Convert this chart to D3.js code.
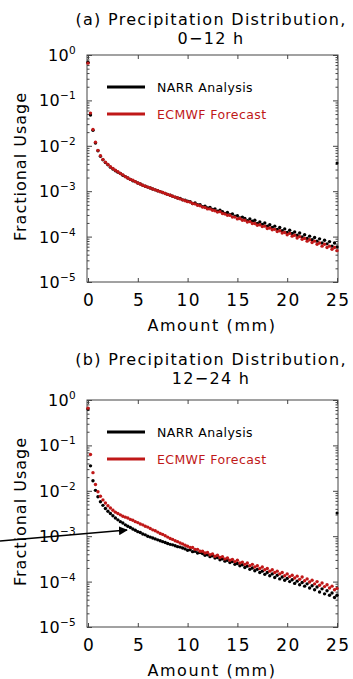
<!DOCTYPE html>
<html lang="en">
<head>
<meta charset="UTF-8">
<title>Precipitation Distribution</title>
<script src="https://d3js.org/d3.v7.min.js"></script>
<style>
  body { margin: 0; background: #fff; font-family: 'DejaVu Sans', sans-serif; }
  svg { display: block; }
  .axis path, .axis line { stroke: #444; }
</style>
</head>
<body>
<svg id="chart" width="353" height="679"></svg>
<script>
// precipitation amount bins (mm)
const amounts = [0, 0.25, 0.5, 0.75, 1, 1.25, 1.5, 1.75, 2, 2.25, 2.5, 2.75, 3, 3.25, 3.5, 3.75,
  4, 4.25, 4.5, 4.75, 5, 5.25, 5.5, 5.75, 6, 6.25, 6.5, 6.75, 7, 7.25, 7.5, 7.75,
  8, 8.25, 8.5, 8.75, 9, 9.25, 9.5, 9.75, 10, 10.25, 10.5, 10.75, 11, 11.25, 11.5, 11.75,
  12, 12.25, 12.5, 12.75, 13, 13.25, 13.5, 13.75, 14, 14.25, 14.5, 14.75, 15, 15.25, 15.5, 15.75,
  16, 16.25, 16.5, 16.75, 17, 17.25, 17.5, 17.75, 18, 18.25, 18.5, 18.75, 19, 19.25, 19.5, 19.75,
  20, 20.25, 20.5, 20.75, 21, 21.25, 21.5, 21.75, 22, 22.25, 22.5, 22.75, 23, 23.25, 23.5, 23.75,
  24, 24.25, 24.5, 24.75, 25];

// log10 of fractional usage
const narrA = [-0.16, -1.32, -1.66, -1.94, -2.11, -2.23, -2.31, -2.37, -2.42, -2.47,
  -2.51, -2.55, -2.58, -2.61, -2.65, -2.68, -2.71, -2.74, -2.77, -2.79,
  -2.82, -2.84, -2.87, -2.89, -2.91, -2.93, -2.95, -2.97, -2.99, -3.01,
  -3.03, -3.05, -3.07, -3.09, -3.11, -3.13, -3.15, -3.16, -3.19, -3.20,
  -3.22, -3.23, -3.27, -3.26, -3.30, -3.30, -3.34, -3.33, -3.37, -3.36,
  -3.40, -3.39, -3.44, -3.42, -3.45, -3.49, -3.47, -3.52, -3.50, -3.55,
  -3.54, -3.59, -3.57, -3.60, -3.65, -3.61, -3.66, -3.64, -3.71, -3.68,
  -3.73, -3.70, -3.77, -3.74, -3.80, -3.77, -3.84, -3.80, -3.87, -3.83,
  -3.91, -3.86, -3.93, -3.90, -3.97, -3.92, -4.01, -3.96, -4.04, -3.99,
  -4.07, -4.02, -4.10, -4.05, -4.14, -4.08, -4.16, -4.11, -4.21, -4.14,
  -4.23];
const ecmwfA = [-0.18, -1.28, -1.64, -1.92, -2.10, -2.22, -2.30, -2.36, -2.41, -2.46,
  -2.50, -2.54, -2.57, -2.61, -2.64, -2.68, -2.71, -2.74, -2.76, -2.79,
  -2.82, -2.84, -2.87, -2.89, -2.91, -2.93, -2.95, -2.97, -2.99, -3.01,
  -3.03, -3.05, -3.07, -3.09, -3.11, -3.13, -3.15, -3.17, -3.19, -3.21,
  -3.23, -3.24, -3.27, -3.28, -3.31, -3.32, -3.35, -3.36, -3.39, -3.39,
  -3.42, -3.43, -3.46, -3.45, -3.49, -3.50, -3.53, -3.53, -3.57, -3.57,
  -3.61, -3.60, -3.64, -3.64, -3.68, -3.67, -3.71, -3.71, -3.75, -3.74,
  -3.78, -3.77, -3.82, -3.81, -3.85, -3.84, -3.89, -3.87, -3.92, -3.91,
  -3.96, -3.93, -3.99, -3.97, -4.03, -4.00, -4.06, -4.04, -4.10, -4.07,
  -4.13, -4.10, -4.17, -4.14, -4.21, -4.17, -4.24, -4.21, -4.28, -4.24,
  -4.31];
const narrB = [-0.20, -1.45, -1.78, -1.99, -2.13, -2.24, -2.32, -2.39, -2.45, -2.50,
  -2.55, -2.60, -2.64, -2.68, -2.71, -2.75, -2.78, -2.81, -2.84, -2.87,
  -2.90, -2.92, -2.95, -2.97, -3.00, -3.02, -3.04, -3.06, -3.08, -3.10,
  -3.12, -3.14, -3.16, -3.18, -3.19, -3.21, -3.23, -3.24, -3.26, -3.28,
  -3.31, -3.30, -3.34, -3.33, -3.37, -3.36, -3.38, -3.42, -3.41, -3.45,
  -3.43, -3.48, -3.47, -3.52, -3.50, -3.55, -3.53, -3.58, -3.56, -3.62,
  -3.60, -3.65, -3.63, -3.69, -3.66, -3.73, -3.70, -3.76, -3.73, -3.80,
  -3.77, -3.84, -3.80, -3.87, -3.83, -3.91, -3.86, -3.94, -3.90, -3.97,
  -3.93, -4.00, -3.96, -4.04, -3.99, -4.07, -4.02, -4.10, -4.05, -4.14,
  -4.09, -4.18, -4.12, -4.23, -4.16, -4.27, -4.20, -4.30, -4.25, -4.35,
  -4.30];
const ecmwfB = [-0.18, -1.20, -1.60, -1.86, -2.02, -2.12, -2.20, -2.27, -2.33, -2.38,
  -2.43, -2.47, -2.50, -2.53, -2.56, -2.58, -2.60, -2.63, -2.65, -2.68,
  -2.70, -2.73, -2.75, -2.78, -2.80, -2.83, -2.86, -2.88, -2.91, -2.94,
  -2.96, -2.99, -3.02, -3.05, -3.07, -3.10, -3.12, -3.15, -3.17, -3.20,
  -3.22, -3.25, -3.25, -3.29, -3.29, -3.33, -3.33, -3.37, -3.36, -3.41,
  -3.39, -3.44, -3.42, -3.47, -3.45, -3.50, -3.48, -3.53, -3.51, -3.56,
  -3.53, -3.59, -3.57, -3.62, -3.59, -3.65, -3.62, -3.68, -3.65, -3.71,
  -3.68, -3.74, -3.71, -3.77, -3.74, -3.80, -3.77, -3.83, -3.80, -3.87,
  -3.83, -3.89, -3.86, -3.92, -3.88, -3.95, -3.90, -3.98, -3.94, -4.01,
  -3.97, -4.05, -4.00, -4.08, -4.03, -4.11, -4.07, -4.14, -4.10, -4.18,
  -4.15];
// lone analysis points on the right edge (>= 25 mm bin)
const overflowAmount = [25];
const overflowNarrA = [-2.38];
const overflowNarrB = [-2.49];

const xTicks = [0, 5, 10, 15, 20, 25];
const yExponents = [0, -1, -2, -3, -4, -5];
const seriesNames = ['NARR Analysis', 'ECMWF Forecast'];
const seriesColors = ['#000000', '#c01818'];
const panelTitles = [
  ['(a) Precipitation Distribution,', '0\u221212 h'],
  ['(b) Precipitation Distribution,', '12\u221224 h']
];

const svg = d3.select('#chart');
const left = 88, right = 337, plotH = 227;
const panelTops = [55, 400];
const titleBase = [25, 365];

const x = d3.scaleLinear().domain([0, 25]).range([left, right]);

function drawPanel(idx, narr, ecmwf, overflow) {
  const top = panelTops[idx];
  const y = d3.scaleLog().domain([1e-5, 1]).range([top + plotH, top]);
  const g = svg.append('g');

  // title
  panelTitles[idx].forEach((line, k) => {
    g.append('text').attr('x', 211).attr('y', titleBase[idx] + k * 19)
      .attr('text-anchor', 'middle').attr('font-size', 16).attr('letter-spacing', 1.3)
      .text(line);
  });

  // frame
  g.append('rect').attr('x', left - 1).attr('y', top)
    .attr('width', right - left + 2).attr('height', plotH)
    .attr('fill', 'none').attr('stroke', '#444').attr('stroke-width', 1);

  const majors = yExponents.map(e => Math.pow(10, e));
  const minors = y.ticks().filter(v => !majors.some(m => Math.abs(v / m - 1) < 1e-6));

  // inward ticks on all four sides
  g.append('g').attr('class', 'axis').attr('transform', `translate(${left - 1},0)`)
    .call(d3.axisLeft(y).tickValues(majors).tickSize(-5).tickFormat(''))
    .call(a => a.select('.domain').remove());
  g.append('g').attr('class', 'axis').attr('transform', `translate(${left - 1},0)`)
    .call(d3.axisLeft(y).tickValues(minors).tickSize(-2.5).tickFormat(''))
    .call(a => a.select('.domain').remove());
  g.append('g').attr('class', 'axis').attr('transform', `translate(${right + 1},0)`)
    .call(d3.axisRight(y).tickValues(majors).tickSize(-5).tickFormat(''))
    .call(a => a.select('.domain').remove());
  g.append('g').attr('class', 'axis').attr('transform', `translate(${right + 1},0)`)
    .call(d3.axisRight(y).tickValues(minors).tickSize(-2.5).tickFormat(''))
    .call(a => a.select('.domain').remove());
  g.append('g').attr('class', 'axis').attr('transform', `translate(0,${top + plotH})`)
    .call(d3.axisBottom(x).tickValues(xTicks).tickSize(-4).tickPadding(12))
    .call(a => a.select('.domain').remove())
    .call(a => a.selectAll('text').attr('font-size', 17).attr('letter-spacing', 1.5)
      .attr('dx', 0.75).attr('fill', '#000').attr('font-family', 'DejaVu Sans'));
  g.append('g').attr('class', 'axis').attr('transform', `translate(0,${top})`)
    .call(d3.axisTop(x).tickValues(xTicks).tickSize(-4).tickFormat(''))
    .call(a => a.select('.domain').remove());

  // y tick labels 10^n
  yExponents.forEach(e => {
    const t = g.append('text').attr('x', 76).attr('y', y(Math.pow(10, e)) + 6)
      .attr('text-anchor', 'end').attr('font-size', 16).attr('letter-spacing', 0.3);
    t.append('tspan').text('10');
    t.append('tspan').attr('dy', -7).attr('font-size', 10.5)
      .text(e === 0 ? '0' : '\u2212' + Math.abs(e));
  });

  // axis titles
  g.append('text').attr('transform', `translate(26,${top + plotH / 2 - 2}) rotate(-90)`)
    .attr('text-anchor', 'middle').attr('font-size', 16).attr('letter-spacing', 1)
    .text('Fractional Usage');
  g.append('text').attr('x', 212).attr('y', top + plotH + 49)
    .attr('text-anchor', 'middle').attr('font-size', 16).attr('letter-spacing', 1.6)
    .text('Amount (mm)');

  // data points: analysis first, forecast on top
  [narr, ecmwf].forEach((vals, s) => {
    g.append('g').selectAll('circle')
      .data(amounts.map((a, i) => [a, vals[i]]))
      .join('circle')
      .attr('cx', d => x(d[0]))
      .attr('cy', d => y(Math.pow(10, d[1])))
      .attr('r', 1.7)
      .attr('fill', seriesColors[s]);
  });
  g.append('g').selectAll('circle')
    .data(overflowAmount.map((a, i) => [a, overflow[i]]))
    .join('circle')
    .attr('cx', d => x(d[0]))
    .attr('cy', d => y(Math.pow(10, d[1])))
    .attr('r', 1.5)
    .attr('fill', seriesColors[0]);

  // legend
  seriesNames.forEach((name, s) => {
    const ly = top + 32 + s * 27;
    g.append('line').attr('x1', 107).attr('x2', 145).attr('y1', ly).attr('y2', ly)
      .attr('stroke', seriesColors[s]).attr('stroke-width', 3);
    g.append('text').attr('x', 157).attr('y', ly + 4.5)
      .attr('font-size', 12.5).attr('letter-spacing', 0.4)
      .attr('fill', seriesColors[s]).text(name);
  });
}

drawPanel(0, narrA, ecmwfA, overflowNarrA);
drawPanel(1, narrB, ecmwfB, overflowNarrB);

// annotation arrow in panel (b)
svg.append('defs').append('marker')
  .attr('id', 'head').attr('viewBox', '0 0 10 10').attr('refX', 9).attr('refY', 5)
  .attr('markerWidth', 6).attr('markerHeight', 6).attr('orient', 'auto')
  .append('path').attr('d', 'M0,0 L10,5 L0,10 z').attr('fill', '#000');
svg.append('line').attr('x1', 0).attr('y1', 541).attr('x2', 127).attr('y2', 530)
  .attr('stroke', '#000').attr('stroke-width', 1.5).attr('marker-end', 'url(#head)');
</script>
</body>
</html>
